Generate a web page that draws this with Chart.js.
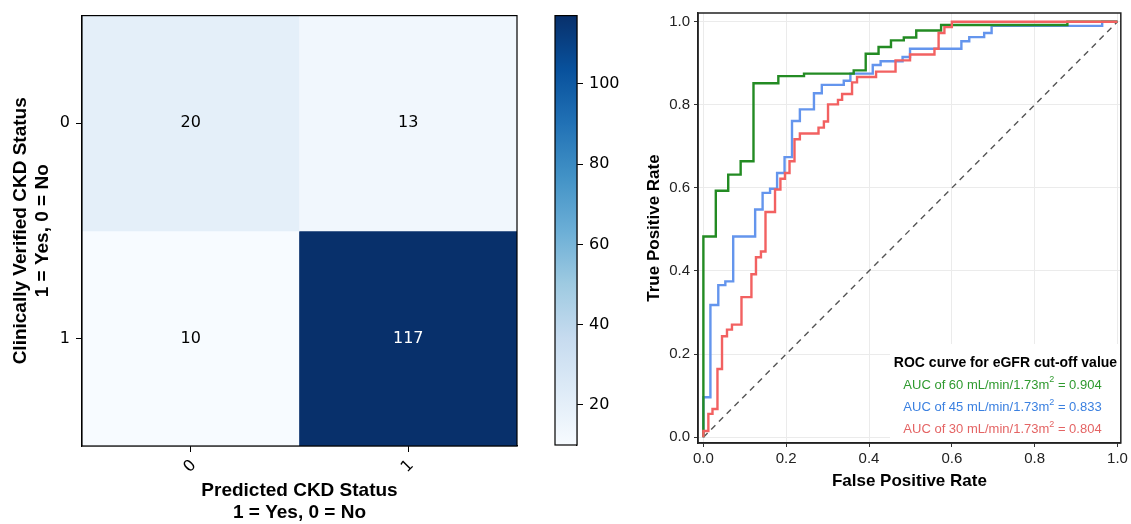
<!DOCTYPE html>
<html>
<head>
<meta charset="utf-8">
<script src="https://cdn.jsdelivr.net/npm/chart.js@4.4.0/dist/chart.umd.min.js"></script>
<style>
  html, body { margin: 0; padding: 0; background: #fff; }
  body { width: 1131px; height: 524px; position: relative; overflow: hidden; }
  canvas { position: absolute; top: 0; }
  #cm { left: 0; }
  #cb { left: 540px; }
  #roc { left: 630px; }
</style>
</head>
<body>
<canvas id="cm" width="540" height="524"></canvas>
<canvas id="cb" width="90" height="524"></canvas>
<canvas id="roc" width="501" height="524"></canvas>
<script>
// confusion matrix
const predictedLabels = ['0', '1'];
const actualLabels = ['0', '1'];
const cmCounts = [
    [20, 13],
    [10, 117]
];
const colorbarTicks = [20, 40, 60, 80, 100];

// ROC curves (step vertices)
const rocTicks = [0, 0.2, 0.4, 0.6, 0.8, 1.0];
const cutoffs = [60, 45, 30];
const aucValues = [0.904, 0.833, 0.804];

const fpr60 = [0, 0, 0.030, 0.060, 0.090, 0.121, 0.181, 0.243, 0.363, 0.392, 0.423, 0.453, 0.484, 0.514, 0.574, 0.879, 1.0];
const tpr60 = [0, 0.483, 0.593, 0.632, 0.664, 0.852, 0.869, 0.875, 0.883, 0.923, 0.939, 0.955, 0.962, 0.979, 0.992, 1.0, 1.0];

const fpr45 = [0, 0, 0.017, 0.036, 0.053, 0.072, 0.125, 0.143, 0.161, 0.178, 0.196, 0.214, 0.233, 0.267, 0.286, 0.339, 0.355, 0.409, 0.428, 0.481, 0.499, 0.623, 0.642, 0.678, 0.696, 0.963, 1.0];
const tpr45 = [0, 0.096, 0.318, 0.366, 0.375, 0.483, 0.548, 0.588, 0.598, 0.636, 0.674, 0.761, 0.789, 0.828, 0.848, 0.858, 0.875, 0.896, 0.905, 0.915, 0.935, 0.953, 0.963, 0.973, 0.990, 1.0, 1.0];

const fpr30 = [0, 0, 0.012, 0.022, 0.034, 0.045, 0.057, 0.069, 0.092, 0.116, 0.127, 0.139, 0.150, 0.173, 0.186, 0.197, 0.208, 0.220, 0.233, 0.278, 0.291, 0.301, 0.325, 0.335, 0.359, 0.371, 0.417, 0.464, 0.499, 0.558, 0.568, 0.582, 0.600, 1.0];
const tpr30 = [0, 0.015, 0.056, 0.068, 0.164, 0.243, 0.259, 0.271, 0.337, 0.392, 0.433, 0.447, 0.542, 0.596, 0.622, 0.636, 0.664, 0.717, 0.731, 0.745, 0.760, 0.801, 0.812, 0.826, 0.854, 0.867, 0.880, 0.907, 0.921, 0.935, 0.973, 0.987, 1.0, 1.0];

const chanceX = [0, 1];
const chanceY = [0, 1];

// --- styling ---
Chart.defaults.font.family = '"Liberation Sans", Arial, sans-serif';
Chart.defaults.color = '#000';

const BLUES = ['#f7fbff', '#deebf7', '#c6dbef', '#9ecae1', '#6baed6', '#4292c6', '#2171b5', '#08519c', '#08306b'];
const lineColors = ['#238b23', '#6495ed', '#f26161'];
const textColors = ['#2f9a2f', '#3b80e0', '#e46464'];

function hexToRgb(h) {
    const n = parseInt(h.slice(1), 16);
    return [(n >> 16) & 255, (n >> 8) & 255, n & 255];
}

function blues(t) {
    t = Math.max(0, Math.min(1, t));
    const p = t * (BLUES.length - 1);
    const i = Math.min(Math.floor(p), BLUES.length - 2);
    const f = p - i;
    const a = hexToRgb(BLUES[i]), b = hexToRgb(BLUES[i + 1]);
    const c = a.map((v, k) => Math.round(v + (b[k] - v) * f));
    return `rgb(${c[0]},${c[1]},${c[2]})`;
}

const allCounts = cmCounts.flat();
const vmin = Math.min(...allCounts);
const vmax = Math.max(...allCounts);
const cellColor = v => blues((v - vmin) / (vmax - vmin));

// box round the plot area
const framePlugin = {
    id: 'frame',
    afterDraw(chart, args, opts) {
        const { ctx, chartArea: a } = chart;
        ctx.save();
        ctx.strokeStyle = opts.color || '#000';
        ctx.lineWidth = opts.width || 1.2;
        ctx.strokeRect(a.left, a.top, a.right - a.left, a.bottom - a.top);
        ctx.restore();
    }
};

// numbers inside heatmap cells
const cellTextPlugin = {
    id: 'cellText',
    afterDatasetsDraw(chart) {
        const ctx = chart.ctx;
        ctx.save();
        ctx.font = '16px "DejaVu Sans"';
        ctx.textAlign = 'center';
        ctx.textBaseline = 'middle';
        chart.data.datasets.forEach((ds, r) => {
            chart.getDatasetMeta(r).data.forEach((bar, c) => {
                const v = cmCounts[r][c];
                ctx.fillStyle = v > (vmin + vmax) / 2 ? '#fff' : '#000';
                ctx.fillText(String(v), bar.x, (bar.y + bar.base) / 2);
            });
        });
        ctx.restore();
    }
};

// text legend in the lower right of the ROC plot
const rocLegendPlugin = {
    id: 'rocLegend',
    afterDatasetsDraw(chart) {
        const { ctx, chartArea: a } = chart;
        ctx.save();
        ctx.fillStyle = '#fff';
        ctx.fillRect(260, 344, a.right - 260 - 1, a.bottom - 344 - 1);

        ctx.textBaseline = 'middle';
        ctx.textAlign = 'center';
        ctx.fillStyle = '#000';
        ctx.font = 'bold 14px "Liberation Sans"';
        ctx.fillText('ROC curve for eGFR cut-off value', 375.5, 363);

        ctx.textAlign = 'left';
        const rowY = [385, 407.5, 429.5];
        cutoffs.forEach((cut, i) => {
            const base = `AUC of ${cut} mL/min/1.73m`;
            const sup = '2';
            const tail = ` = ${aucValues[i].toFixed(3)}`;
            ctx.font = '13px "Liberation Sans"';
            const wBase = ctx.measureText(base).width;
            const wTail = ctx.measureText(tail).width;
            ctx.font = '9px "Liberation Sans"';
            const wSup = ctx.measureText(sup).width;
            let x = 372.5 - (wBase + wSup + wTail) / 2;
            ctx.fillStyle = textColors[i];
            ctx.font = '13px "Liberation Sans"';
            ctx.fillText(base, x, rowY[i]);
            ctx.font = '9px "Liberation Sans"';
            ctx.fillText(sup, x + wBase, rowY[i] - 5);
            ctx.font = '13px "Liberation Sans"';
            ctx.fillText(tail, x + wBase + wSup, rowY[i]);
        });
        ctx.restore();
    }
};

// --- confusion matrix heatmap ---
new Chart(document.getElementById('cm'), {
    type: 'bar',
    data: {
        labels: predictedLabels,
        datasets: actualLabels.map((lab, r) => ({
            label: lab,
            data: predictedLabels.map(() => [r, r + 1]),
            backgroundColor: cmCounts[r].map(cellColor),
            borderWidth: 0,
            barPercentage: 1,
            categoryPercentage: 1,
            grouped: false
        }))
    },
    options: {
        responsive: false,
        animation: false,
        events: [],
        layout: { padding: { top: 11, right: 23, left: 0, bottom: 0 } },
        plugins: {
            legend: { display: false },
            tooltip: { enabled: false },
            frame: { color: '#000', width: 1.2 }
        },
        scales: {
            x: {
                grid: { offset: false, drawOnChartArea: false, tickLength: 6, tickColor: '#000' },
                border: { color: '#000', width: 1.2 },
                ticks: {
                    color: '#000',
                    font: { family: '"DejaVu Sans"', size: 16 },
                    minRotation: 45, maxRotation: 45,
                    padding: 4, labelOffset: 3
                },
                title: {
                    display: true,
                    text: ['Predicted CKD Status', '1 = Yes, 0 = No'],
                    color: '#000',
                    font: { size: 19, weight: 'bold', lineHeight: 1.15 },
                    padding: { top: 0, bottom: 0 }
                },
                afterFit: s => { s.height = 78; }
            },
            y: {
                min: 0,
                max: actualLabels.length,
                reverse: true,
                afterBuildTicks: s => { s.ticks = actualLabels.map((_, r) => ({ value: r + 0.5 })); },
                grid: { drawOnChartArea: false, tickLength: 6, tickColor: '#000' },
                border: { color: '#000', width: 1.2 },
                ticks: {
                    color: '#000',
                    font: { family: '"DejaVu Sans"', size: 16 },
                    padding: 6,
                    callback: v => actualLabels[Math.floor(v)]
                },
                title: {
                    display: true,
                    text: ['Clinically Verified CKD Status', '1 = Yes, 0 = No'],
                    color: '#000',
                    font: { size: 19, weight: 'bold', lineHeight: 1.15 },
                    padding: { top: 10, bottom: 0 }
                },
                afterFit: s => { s.width = 82; }
            }
        }
    },
    plugins: [cellTextPlugin, framePlugin]
});

// --- colour bar ---
new Chart(document.getElementById('cb'), {
    type: 'bar',
    data: {
        labels: [''],
        datasets: [{
            data: [[vmin, vmax]],
            backgroundColor: ctx => {
                const a = ctx.chart.chartArea;
                if (!a) return BLUES[0];
                const g = ctx.chart.ctx.createLinearGradient(0, a.bottom, 0, a.top);
                BLUES.forEach((c, i) => g.addColorStop(i / (BLUES.length - 1), c));
                return g;
            },
            borderWidth: 0,
            barPercentage: 1,
            categoryPercentage: 1
        }]
    },
    options: {
        responsive: false,
        animation: false,
        events: [],
        layout: { padding: { top: 11, bottom: 79, left: 15, right: 0 } },
        plugins: {
            legend: { display: false },
            tooltip: { enabled: false },
            frame: { color: '#000', width: 1.2 }
        },
        scales: {
            x: { display: false },
            y: {
                position: 'right',
                min: vmin,
                max: vmax,
                afterBuildTicks: s => { s.ticks = colorbarTicks.map(v => ({ value: v })); },
                grid: { drawOnChartArea: false, tickLength: 6, tickColor: '#000' },
                border: { color: '#000', width: 1.2 },
                ticks: { color: '#000', font: { family: '"DejaVu Sans"', size: 16 }, padding: 6 },
                afterFit: s => { s.width = 53; }
            }
        }
    },
    plugins: [framePlugin]
});

// --- ROC curves ---
const toPoints = (xs, ys) => xs.map((x, i) => ({ x, y: ys[i] }));
const curves = [toPoints(fpr60, tpr60), toPoints(fpr45, tpr45), toPoints(fpr30, tpr30)];
const drawOrder = [1, 2, 0];

new Chart(document.getElementById('roc'), {
    type: 'line',
    data: {
        datasets: curves.map((pts, i) => ({
            label: `AUC of ${cutoffs[i]}`,
            data: pts,
            borderColor: lineColors[i],
            borderWidth: 2.4,
            stepped: 'before',
            order: drawOrder[i]
        })).concat([{
            label: 'chance',
            data: toPoints(chanceX, chanceY),
            borderColor: '#555',
            borderWidth: 1.4,
            borderDash: [6, 5],
            order: 5
        }])
    },
    options: {
        responsive: false,
        animation: false,
        events: [],
        layout: { padding: { top: 8, right: 9, left: 0, bottom: 0 } },
        elements: { point: { radius: 0 }, line: { tension: 0, fill: false } },
        plugins: {
            legend: { display: false },
            tooltip: { enabled: false },
            frame: { color: '#222', width: 1.5 }
        },
        scales: {
            x: {
                type: 'linear',
                min: -0.013,
                max: 1.008,
                afterBuildTicks: s => { s.ticks = rocTicks.map(v => ({ value: v })); },
                grid: { color: '#ebebeb', tickColor: '#333', tickLength: 4 },
                border: { color: '#222', width: 1.5 },
                ticks: { color: '#222', font: { size: 15 }, padding: 3, callback: v => v.toFixed(1) },
                title: {
                    display: true, text: 'False Positive Rate', color: '#000',
                    font: { size: 17, weight: 'bold' },
                    padding: { top: 0, bottom: 32 }
                },
                afterFit: s => { s.height = 81; }
            },
            y: {
                type: 'linear',
                min: -0.014,
                max: 1.021,
                afterBuildTicks: s => { s.ticks = rocTicks.map(v => ({ value: v })); },
                grid: { color: '#ebebeb', tickColor: '#333', tickLength: 4 },
                border: { color: '#222', width: 1.5 },
                ticks: { color: '#222', font: { size: 15 }, padding: 4, callback: v => v.toFixed(1) },
                title: {
                    display: true, text: 'True Positive Rate', color: '#000',
                    font: { size: 17, weight: 'bold' },
                    padding: { top: 14, bottom: 0 }
                },
                afterFit: s => { s.width = 68; }
            }
        }
    },
    plugins: [rocLegendPlugin, framePlugin]
});
</script>
</body>
</html>
